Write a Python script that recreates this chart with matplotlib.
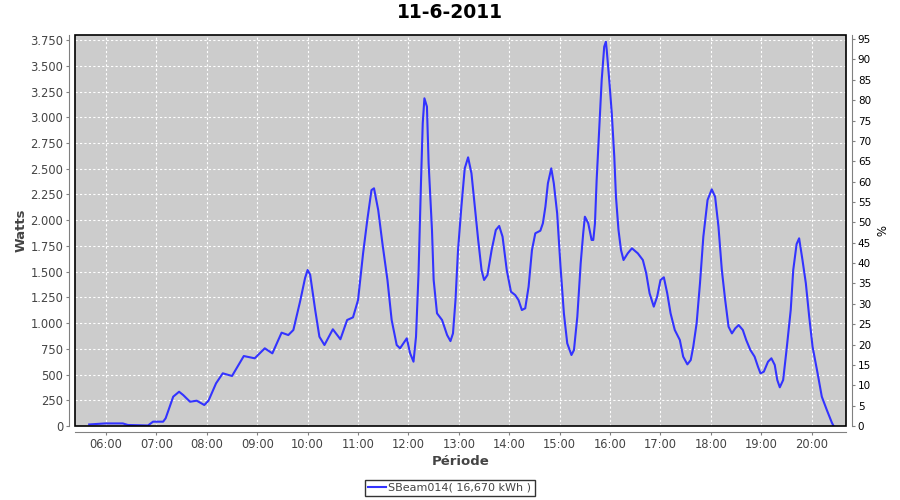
import matplotlib
matplotlib.use("Agg")
import matplotlib.pyplot as plt
from matplotlib.patches import Rectangle

# values
times = ["05:40", "05:59", "06:20", "06:26", "06:50", "06:56", "07:08", "07:11", "07:20", "07:27",
         "07:32", "07:40", "07:48", "07:57", "08:02", "08:11", "08:19", "08:30", "08:44", "08:57",
         "09:09", "09:18", "09:29", "09:37", "09:43", "09:51", "09:57", "10:00", "10:03", "10:09",
         "10:14", "10:20", "10:30", "10:39", "10:47", "10:54", "11:00", "11:06", "11:11", "11:16",
         "11:19", "11:24", "11:29", "11:35", "11:40", "11:46", "11:50", "11:58", "12:02", "12:06",
         "12:09", "12:12", "12:15", "12:17", "12:19", "12:22", "12:24", "12:28", "12:30", "12:34",
         "12:40", "12:46", "12:50", "12:53", "12:56", "12:59", "13:03", "13:07", "13:11", "13:15",
         "13:19", "13:23", "13:27", "13:30", "13:34", "13:39", "13:44", "13:48", "13:52", "13:57",
         "14:02", "14:07", "14:11", "14:15", "14:19", "14:23", "14:27", "14:31", "14:37", "14:40",
         "14:43", "14:46", "14:50", "14:53", "14:57", "15:01", "15:05", "15:09", "15:14", "15:17",
         "15:21", "15:25", "15:28", "15:30", "15:34", "15:38", "15:40", "15:42", "15:44", "15:47",
         "15:50", "15:53", "15:55", "15:56", "15:59", "16:02", "16:05", "16:07", "16:10", "16:13",
         "16:16", "16:21", "16:26", "16:33", "16:39", "16:43", "16:47", "16:52", "16:56", "17:00",
         "17:04", "17:08", "17:12", "17:17", "17:23", "17:27", "17:32", "17:36", "17:39", "17:43",
         "17:47", "17:51", "17:56", "18:01", "18:05", "18:09", "18:13", "18:17", "18:21", "18:25",
         "18:29", "18:33", "18:38", "18:42", "18:47", "18:52", "18:56", "18:59", "19:03", "19:08",
         "19:12", "19:16", "19:19", "19:22", "19:26", "19:30", "19:35", "19:38", "19:42", "19:45",
         "19:49", "19:53", "19:57", "20:01", "20:07", "20:12", "20:18", "20:24", "20:26"]
watts = [15, 25, 25, 10, 5, 42, 42, 75, 285, 333,
         300, 236, 246, 204, 246, 415, 512, 486, 680, 658,
         755, 706, 907, 884, 933, 1210, 1440, 1516, 1470, 1127,
         868, 787, 940, 843, 1030, 1056, 1224, 1678, 2002, 2293,
         2310, 2099, 1775, 1419, 1030, 787, 755, 852, 706, 625,
         868, 1484, 2391, 2942, 3185, 3103, 2553, 1905, 1419, 1095,
         1030, 884, 825, 900, 1224, 1710, 2131, 2504, 2611, 2455,
         2131, 1808, 1516, 1419, 1467, 1710, 1905, 1944, 1840, 1516,
         1305, 1273, 1224, 1127, 1144, 1354, 1710, 1873, 1898, 1970,
         2131, 2359, 2504, 2359, 2067, 1548, 1095, 804, 690, 738,
         1062, 1581, 1873, 2034, 1970, 1808, 1808, 1970, 2391, 2877,
         3362, 3686, 3735, 3654, 3362, 3039, 2617, 2228, 1905, 1710,
         1613, 1678, 1727, 1678, 1613, 1484, 1290, 1160, 1257, 1419,
         1445, 1290, 1095, 933, 836, 674, 599, 641, 771, 998,
         1387, 1840, 2196, 2300, 2228, 1937, 1516, 1224, 965, 900,
         949, 981, 933, 836, 738, 674, 577, 512, 528, 625,
         658, 593, 447, 376, 447, 738, 1127, 1516, 1768, 1824,
         1613, 1387, 1062, 771, 512, 285, 155, 32, 0]

hours = list(range(6, 21))
hour_labels = ["%02d:00" % h for h in hours]
watt_ticks = list(range(0, 3751, 250))
watt_labels = ["{:,}".format(v).replace(",", ".") for v in watt_ticks]
pct_ticks = list(range(0, 96, 5))
legend_label = "SBeam014( 16,670 kWh )"

x = [int(t[:2]) + int(t[3:]) / 60.0 for t in times]

fig = plt.figure(figsize=(9, 5), dpi=100)
ax = fig.add_axes([75 / 900, 1 - 426 / 500, (846 - 75) / 900, (426 - 35) / 500])
ax.set_facecolor("#cccccc")

line, = ax.plot(x, watts, color="#3333ff", linewidth=1.5, label=legend_label, zorder=3)

ax.set_xlim(5.385, 20.68)
ax.set_ylim(0, 3800)
ax.set_xticks(hours)
ax.set_xticklabels(hour_labels)
ax.set_yticks(watt_ticks)
ax.set_yticklabels(watt_labels)
ax.grid(True, color="white", linestyle=(0, (2, 2)), linewidth=0.8)
ax.set_axisbelow(True)

grey = "#808080"
for side in ["left", "bottom"]:
    ax.spines[side].set_position(("outward", 4))
    ax.spines[side].set_color(grey)
for side in ["top", "right"]:
    ax.spines[side].set_visible(False)
ax.tick_params(axis="both", colors=grey, length=2.5, width=0.8, labelsize=8.3,
               labelcolor="#444444", pad=2)

# black plot outline
ax.add_patch(Rectangle((0, 0), 1, 1, transform=ax.transAxes, fill=False,
                       edgecolor="black", linewidth=1.2, zorder=5, clip_on=False))

ax.set_ylabel("Watts", fontsize=9.5, fontweight="bold", color="#444444", labelpad=2)
ax.set_xlabel("Période", fontsize=9.5, fontweight="bold", color="#444444", labelpad=3)

ax2 = ax.twinx()
ax2.set_ylim(0, 96)
ax2.set_yticks(pct_ticks)
for side in ["left", "bottom", "top"]:
    ax2.spines[side].set_visible(False)
ax2.spines["right"].set_position(("outward", 4))
ax2.spines["right"].set_color(grey)
ax2.tick_params(axis="y", colors=grey, length=2.5, width=0.8, labelsize=7.5,
                labelcolor="black", pad=2)
ax2.set_ylabel("%", fontsize=8.5, color="black", rotation=-90, labelpad=10)

fig.suptitle("11-6-2011", x=0.5, y=0.993, fontsize=13.5, fontweight="bold")

leg = fig.legend(handles=[line], loc="center", bbox_to_anchor=(0.5, 1 - 488 / 500),
                 fontsize=8, frameon=True, fancybox=False, handlelength=1.6,
                 handletextpad=0.2, borderpad=0.3, borderaxespad=0)
leg.get_frame().set_edgecolor("black")
leg.get_frame().set_linewidth(1.0)
for t in leg.get_texts():
    t.set_color("#444444")

fig.savefig("out.png", dpi=100)
